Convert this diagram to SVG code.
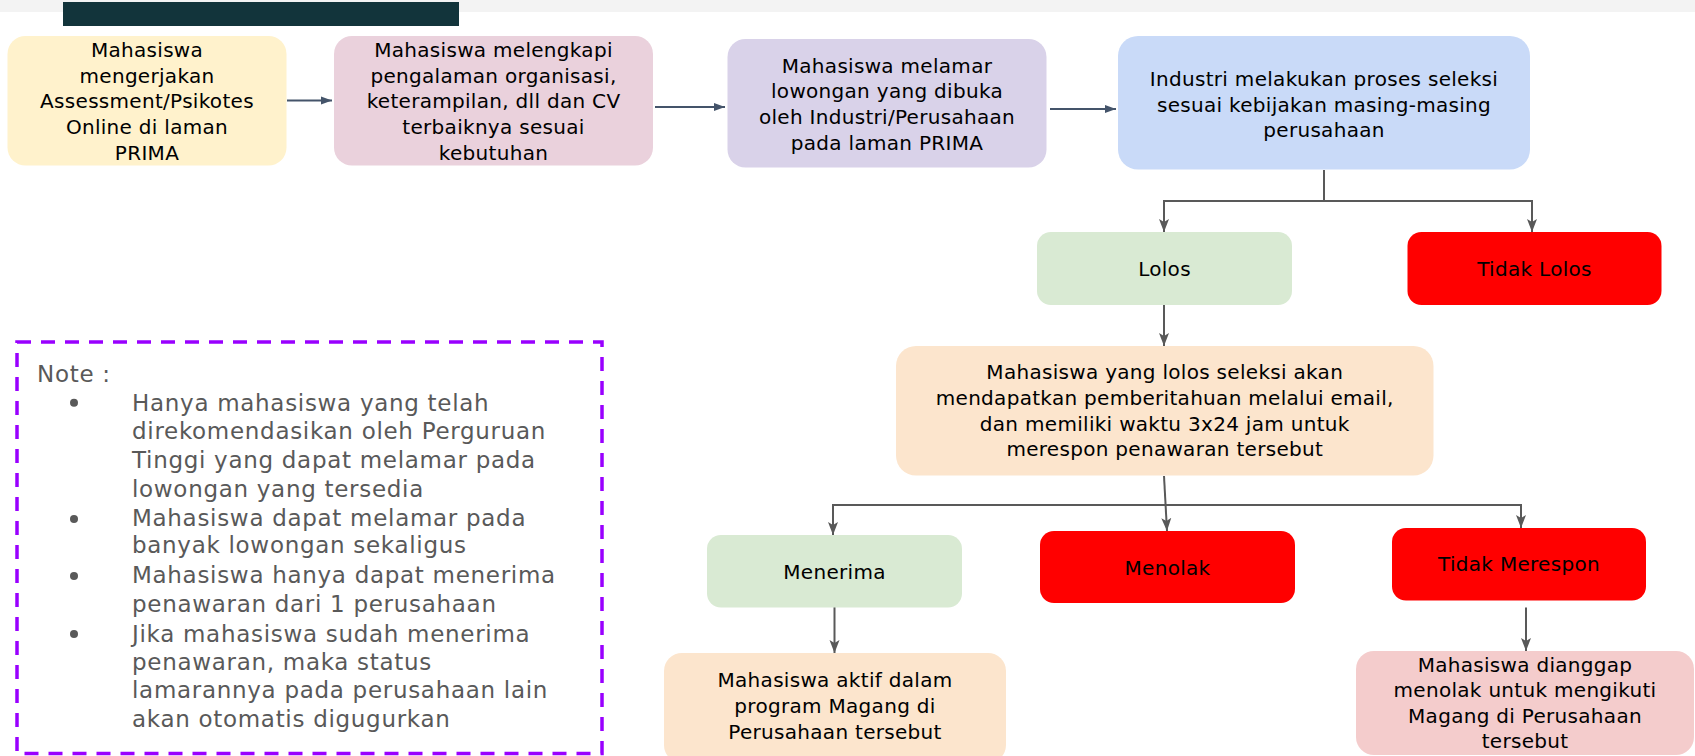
<svg xmlns="http://www.w3.org/2000/svg" width="1695" height="756" viewBox="0 0 1695 756">
<style>
.t{font-family:"DejaVu Sans","Liberation Sans",sans-serif;font-size:20px;fill:#000;text-anchor:middle;letter-spacing:0.3px}
.n{font-family:"DejaVu Sans","Liberation Sans",sans-serif;font-size:23px;fill:#595959;letter-spacing:0.7px}
.c1{fill:none;stroke:#44546a;stroke-width:2}
.c2{fill:none;stroke:#595959;stroke-width:2}
</style>
<defs>
<marker id="ma" markerUnits="userSpaceOnUse" markerWidth="12" markerHeight="10" refX="11" refY="5" orient="auto"><path d="M0,1 L11,5 L0,9 z" fill="#44546a"/></marker>
<marker id="mb" markerUnits="userSpaceOnUse" markerWidth="14" markerHeight="14" refX="13" refY="7" orient="auto"><path d="M0,2 L13,7 L0,12 L3,7 z" fill="#595959"/></marker>
</defs>
<rect x="0" y="0" width="1695" height="12" fill="#f3f3f3"/>
<rect x="63" y="2" width="396" height="24" fill="#12343b"/>
<g id="connectors">
<path class="c1" d="M287,100.5 H332" marker-end="url(#ma)"/>
<path class="c1" d="M655,107 H725" marker-end="url(#ma)"/>
<path class="c1" d="M1050,109 H1116" marker-end="url(#ma)"/>
<path class="c2" d="M1324,170 V201 H1164 V232" marker-end="url(#mb)"/>
<path class="c2" d="M1324,201 H1532 V232" marker-end="url(#mb)"/>
<path class="c2" d="M1164,305 V346" marker-end="url(#mb)"/>
<path class="c2" d="M1164,476 L1167,531" marker-end="url(#mb)"/>
<path class="c2" d="M1165,505 H833 V535" marker-end="url(#mb)"/>
<path class="c2" d="M1165,505 H1521 V528" marker-end="url(#mb)"/>
<path class="c2" d="M834.5,607 V653" marker-end="url(#mb)"/>
<path class="c2" d="M1526,607.5 V651" marker-end="url(#mb)"/>
</g>
<g id="n1"><rect x="7.5" y="36" width="279" height="129.5" rx="18" fill="#fff2cc"/>
<text class="t" x="147" y="56.7">Mahasiswa</text><text class="t" x="147" y="82.5">mengerjakan</text><text class="t" x="147" y="108.3">Assessment/Psikotes</text><text class="t" x="147" y="134.2">Online di laman</text><text class="t" x="147" y="160">PRIMA</text></g>
<g id="n2"><rect x="334" y="36" width="319" height="129.5" rx="18" fill="#ead1dc"/>
<text class="t" x="493.5" y="56.7">Mahasiswa melengkapi</text><text class="t" x="493.5" y="82.5">pengalaman organisasi,</text><text class="t" x="493.5" y="108.3">keterampilan, dll dan CV</text><text class="t" x="493.5" y="134.2">terbaiknya sesuai</text><text class="t" x="493.5" y="160">kebutuhan</text></g>
<g id="n3"><rect x="727.5" y="39" width="319" height="128.5" rx="18" fill="#d9d2e9"/>
<text class="t" x="887" y="72.7">Mahasiswa melamar</text><text class="t" x="887" y="98.4">lowongan yang dibuka</text><text class="t" x="887" y="124.1">oleh Industri/Perusahaan</text><text class="t" x="887" y="149.8">pada laman PRIMA</text></g>
<g id="n4"><rect x="1118" y="36" width="412" height="133.5" rx="20" fill="#c9daf8"/>
<text class="t" x="1324" y="86">Industri melakukan proses seleksi</text><text class="t" x="1324" y="111.5">sesuai kebijakan masing-masing</text><text class="t" x="1324" y="137">perusahaan</text></g>
<g id="n5"><rect x="1037" y="232" width="255" height="73" rx="14" fill="#d9ead3"/>
<text class="t" x="1164.5" y="275.5">Lolos</text></g>
<g id="n6"><rect x="1407.5" y="232" width="254" height="73" rx="14" fill="#ff0000"/>
<text class="t" x="1534.5" y="275.5">Tidak Lolos</text></g>
<g id="n7"><rect x="896" y="346" width="537.5" height="129.5" rx="20" fill="#fce5cd"/>
<text class="t" x="1164.75" y="379.3">Mahasiswa yang lolos seleksi akan</text><text class="t" x="1164.75" y="405">mendapatkan pemberitahuan melalui email,</text><text class="t" x="1164.75" y="430.7">dan memiliki waktu 3x24 jam untuk</text><text class="t" x="1164.75" y="456.4">merespon penawaran tersebut</text></g>
<g id="n8"><rect x="707" y="535" width="255" height="72.5" rx="14" fill="#d9ead3"/>
<text class="t" x="834.5" y="578.5">Menerima</text></g>
<g id="n9"><rect x="1040" y="531" width="255" height="72" rx="14" fill="#ff0000"/>
<text class="t" x="1167.5" y="574.5">Menolak</text></g>
<g id="n10"><rect x="1392" y="528" width="254" height="72.5" rx="14" fill="#ff0000"/>
<text class="t" x="1519" y="571">Tidak Merespon</text></g>
<g id="n11"><rect x="664" y="653" width="342" height="110" rx="18" fill="#fce5cd"/>
<text class="t" x="835" y="686.7">Mahasiswa aktif dalam</text><text class="t" x="835" y="713">program Magang di</text><text class="t" x="835" y="739.3">Perusahaan tersebut</text></g>
<g id="n12"><rect x="1356" y="651" width="338" height="104" rx="18" fill="#f4cccc"/>
<text class="t" x="1525" y="671.7">Mahasiswa dianggap</text><text class="t" x="1525" y="697.2">menolak untuk mengikuti</text><text class="t" x="1525" y="722.7">Magang di Perusahaan</text><text class="t" x="1525" y="748.2">tersebut</text></g>
<g id="note">
<rect x="17" y="342" width="585" height="411.5" fill="none" stroke="#9900ff" stroke-width="3.5" stroke-dasharray="14 10"/>
<text class="n" x="37" y="381.7">Note :</text>
<circle cx="74" cy="402.7" r="4" fill="#595959"/>
<circle cx="74" cy="519" r="4" fill="#595959"/>
<circle cx="74" cy="576" r="4" fill="#595959"/>
<circle cx="74" cy="634" r="4" fill="#595959"/>
<text class="n" x="132" y="410.7">Hanya mahasiswa yang telah</text>
<text class="n" x="132" y="439.3">direkomendasikan oleh Perguruan</text>
<text class="n" x="132" y="468">Tinggi yang dapat melamar pada</text>
<text class="n" x="132" y="496.7">lowongan yang tersedia</text>
<text class="n" x="132" y="526">Mahasiswa dapat melamar pada</text>
<text class="n" x="132" y="553.3">banyak lowongan sekaligus</text>
<text class="n" x="132" y="583.3">Mahasiswa hanya dapat menerima</text>
<text class="n" x="132" y="611.7">penawaran dari 1 perusahaan</text>
<text class="n" x="132" y="641.7">Jika mahasiswa sudah menerima</text>
<text class="n" x="132" y="670">penawaran, maka status</text>
<text class="n" x="132" y="698.3">lamarannya pada perusahaan lain</text>
<text class="n" x="132" y="727.3">akan otomatis digugurkan</text>
</g>
</svg>
